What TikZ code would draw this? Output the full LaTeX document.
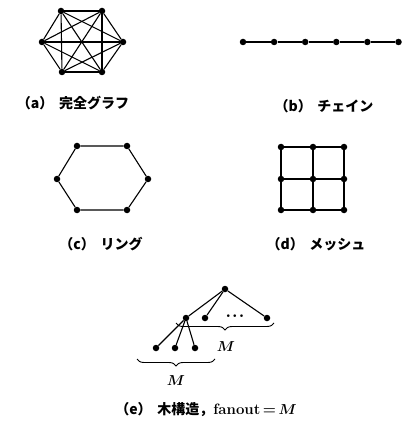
\documentclass[tikz,border=0pt]{standalone}
\usepackage{amsmath}
\usepackage{fontspec}
\newfontfamily\jp{Noto Sans CJK JP}
\usepackage{tikz}
\usetikzlibrary{decorations.pathreplacing}
\tikzset{
  vtx/.style={circle, fill=black, inner sep=0pt, minimum size=6.5pt},
  link/.style={line width=1.1pt},
  caption/.style={font=\jp\bfseries\fontsize{14}{16}\selectfont, inner sep=0pt},
  brc/.style={decorate, decoration={brace, mirror, amplitude=7pt}, line width=0.9pt}
}

\begin{document}
\begin{tikzpicture}[x=1pt, y=-1pt]
\useasboundingbox (0,0) rectangle (402,430);

% (a) complete graph
\node[vtx] (k1) at (61,11) {};
\node[vtx] (k2) at (102,11) {};
\node[vtx] (k3) at (123,42) {};
\node[vtx] (k4) at (102,72) {};
\node[vtx] (k5) at (62,72) {};
\node[vtx] (k6) at (42,42) {};
\foreach \i in {1,...,5}{
  \pgfmathtruncatemacro{\nxt}{\i+1}
  \foreach \j in {\nxt,...,6}{
    \draw[link] (k\i) -- (k\j);
  }
}
\node[caption] (la) at (73,103) {（a）\hspace{0.4em}完全グラフ};

% (b) chain
\foreach \i in {1,...,6}{
  \node[vtx] (c\i) at ({243+31.1*(\i-1)},42) {};
}
\foreach \i [count=\j from 2] in {1,...,5}{
  \draw[link] (c\i) -- (c\j);
}
\node[caption] (lb) at (324,106) {（b）\hspace{0.4em}チェイン};

% (c) ring
\node[vtx] (r1) at (77,146) {};
\node[vtx] (r2) at (127,146) {};
\node[vtx] (r3) at (148,179) {};
\node[vtx] (r4) at (127,210) {};
\node[vtx] (r5) at (77,210) {};
\node[vtx] (r6) at (57,179) {};
\draw[link] (r1) -- (r2) -- (r3) -- (r4) -- (r5) -- (r6) -- (r1);
\node[caption] (lc) at (101,244) {（c）\hspace{0.4em}リング};

% (d) mesh
\foreach \x [count=\i] in {281,313,344}{
  \foreach \y [count=\j] in {147,179,210}{
    \node[vtx] (m\i\j) at (\x,\y) {};
  }
}
\foreach \i in {1,2,3}{
  \draw[link] (m\i1) -- (m\i2) -- (m\i3);
  \draw[link] (m1\i) -- (m2\i) -- (m3\i);
}
\node[caption] (ld) at (316,244) {（d）\hspace{0.4em}メッシュ};

% (e) tree
\node[vtx] (t0) at (225,289) {};
\node[vtx] (t1) at (186,318) {};
\node[vtx] (t2) at (205,318) {};
\node[font=\fontsize{16}{16}\selectfont, inner sep=0pt] (tdots) at (235,316) {$\boldsymbol{\cdot\!\cdot\!\cdot}$};
\node[vtx] (t3) at (267,318) {};
\node[vtx] (u1) at (156,348) {};
\node[vtx] (u2) at (175,348) {};
\node[vtx] (u3) at (195,348) {};
\foreach \n in {t1,t2,t3}{
  \draw[link] (t0) -- (\n);
}
\foreach \n in {u1,u2,u3}{
  \draw[link] (t1) -- (\n);
}
\coordinate (b1l) at (176,323);
\coordinate (b1r) at (274,323);
\coordinate (b2l) at (137,359);
\coordinate (b2r) at (215,359);
\draw[brc] (b1l) -- (b1r);
\draw[brc] (b2l) -- (b2r);
\node[font=\fontsize{15}{17}\selectfont] (m1) at (226,347) {$\boldsymbol{M}$};
\node[font=\fontsize{15}{17}\selectfont] (m2) at (176,381) {$\boldsymbol{M}$};
\node[caption] (le) at (206,410) {（e）\hspace{0.4em}木構造，{\rmfamily\bfseries\fontsize{15}{17}\selectfont fanout\,=\,$\boldsymbol{M}$}};
\end{tikzpicture}
\end{document}
